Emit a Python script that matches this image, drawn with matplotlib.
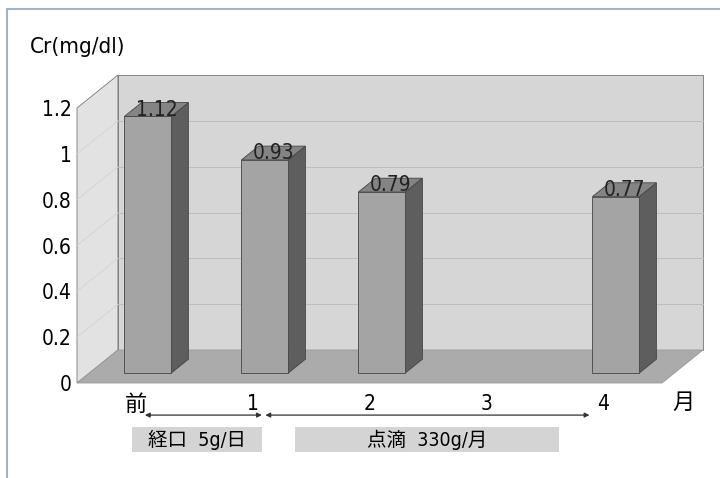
import matplotlib
matplotlib.use("Agg")
import matplotlib.pyplot as plt
from matplotlib.patches import Polygon, Rectangle

plt.rcParams["font.family"] = ["DejaVu Sans", "Noto Sans CJK JP"]
plt.rcParams["font.stretch"] = "condensed"

# data
categories = ["前", "1", "2", "3", "4"]
values = [1.12, 0.93, 0.79, None, 0.77]
value_labels = ["1.12", "0.93", "0.79", None, "0.77"]
y_ticks = [0, 0.2, 0.4, 0.6, 0.8, 1.0, 1.2]
y_tick_labels = ["0", "0.2", "0.4", "0.6", "0.8", "1", "1.2"]
y_label = "Cr(mg/dl)"
unit_label = "月"
# treatment periods: (start, end, text, box start, box end) in category units
periods = [(0.08, 1.08, "経口  5g/日", -0.03, 1.08),
           (1.11, 3.88, "点滴  330g/月", 1.36, 3.62)]

# 3d look: full depth of the box in data units, bar depth range
DX, DY = 0.35, 0.144
F0, F1 = 0.30, 0.72
W = 0.40
XMIN, XMAX, YMAX = -0.5, 4.5, 1.2

C_BACK = "#d6d6d6"
C_LEFT = "#e2e2e2"
C_FLOOR = "#ababab"
C_FRONT = "#a4a4a4"
C_SIDE = "#5e5e5e"
C_TOP = "#848484"

fig = plt.figure(figsize=(7.2, 4.78), dpi=100)
fig.patches.append(Rectangle((7 / 720, -0.1), 1.2, 1 - 9 / 478 + 0.1,
                             transform=fig.transFigure, fill=False,
                             ec="#9fb4c4", lw=1.5))
ax = fig.add_axes([77 / 720, 95 / 478, 585 / 720, 275 / 478])
ax.set_xlim(XMIN, XMAX)
ax.set_ylim(0, YMAX)
for s in ax.spines.values():
    s.set_visible(False)
ax.patch.set_visible(False)


def poly(pts, fc, z, ec="#777777", lw=0.6):
    ax.add_patch(Polygon(pts, closed=True, fc=fc, ec=ec, lw=lw, zorder=z,
                         clip_on=False))


# walls and floor
poly([(XMIN + DX, DY), (XMAX + DX, DY), (XMAX + DX, YMAX + DY),
      (XMIN + DX, YMAX + DY)], C_BACK, 1)
poly([(XMIN, 0), (XMIN + DX, DY), (XMIN + DX, YMAX + DY), (XMIN, YMAX)],
     C_LEFT, 1)
poly([(XMIN, 0), (XMAX, 0), (XMAX + DX, DY), (XMIN + DX, DY)], C_FLOOR, 2,
     ec="#999999")
for t in y_ticks[1:-1]:
    ax.plot([XMIN + DX, XMAX + DX], [t + DY, t + DY],
            color="#bdbdbd", lw=0.7, zorder=1.5, clip_on=False)
    ax.plot([XMIN, XMIN + DX], [t, t + DY],
            color="#d2d2d2", lw=0.6, zorder=1.5, clip_on=False)

# bars
for i, v in enumerate(values):
    if v is None:
        continue
    xl, xr = i - W / 2, i + W / 2
    a = (F0 * DX, F0 * DY)
    b = (F1 * DX, F1 * DY)
    poly([(xr + a[0], a[1]), (xr + b[0], b[1]), (xr + b[0], v + b[1]),
          (xr + a[0], v + a[1])], C_SIDE, 3, ec="#444444")
    poly([(xl + a[0], v + a[1]), (xr + a[0], v + a[1]),
          (xr + b[0], v + b[1]), (xl + b[0], v + b[1])], C_TOP, 3,
         ec="#444444")
    poly([(xl + a[0], a[1]), (xr + a[0], a[1]), (xr + a[0], v + a[1]),
          (xl + a[0], v + a[1])], C_FRONT, 3, ec="#444444")
    ax.text(i + (F0 + F1) / 2 * DX, v + (F0 + F1) / 2 * DY,
            value_labels[i], ha="center", va="center", fontsize=15,
            color="#222222", zorder=4)

# axes labels
ax.set_yticks(y_ticks, y_tick_labels, fontsize=15)
ax.set_xticks(range(len(categories)), categories, fontsize=15)
ax.tick_params(length=0)
ax.tick_params(axis="y", pad=4)
ax.tick_params(axis="x", pad=8)
ax.get_xticklabels()[0].set_fontsize(16)
ax.text(4.68, -0.045, unit_label, ha="center", va="top", fontsize=16)
fig.text(30 / 720, 1 - 47 / 478, y_label, ha="left", va="center",
         fontsize=16)

# treatment periods
for start, end, label, b0, b1 in periods:
    ax.annotate("", xy=(start, -0.14), xytext=(end, -0.14),
                arrowprops=dict(arrowstyle="<|-|>", color="#333333", lw=0.9,
                                mutation_scale=7, shrinkA=0, shrinkB=0),
                annotation_clip=False)
    ax.add_patch(Rectangle((b0, -0.302), b1 - b0, 0.11, fc="#d4d4d4",
                           ec="none", clip_on=False))
    ax.text((b0 + b1) / 2, -0.247, label, ha="center", va="center",
            fontsize=14)

fig.savefig("out.png", dpi=100)
